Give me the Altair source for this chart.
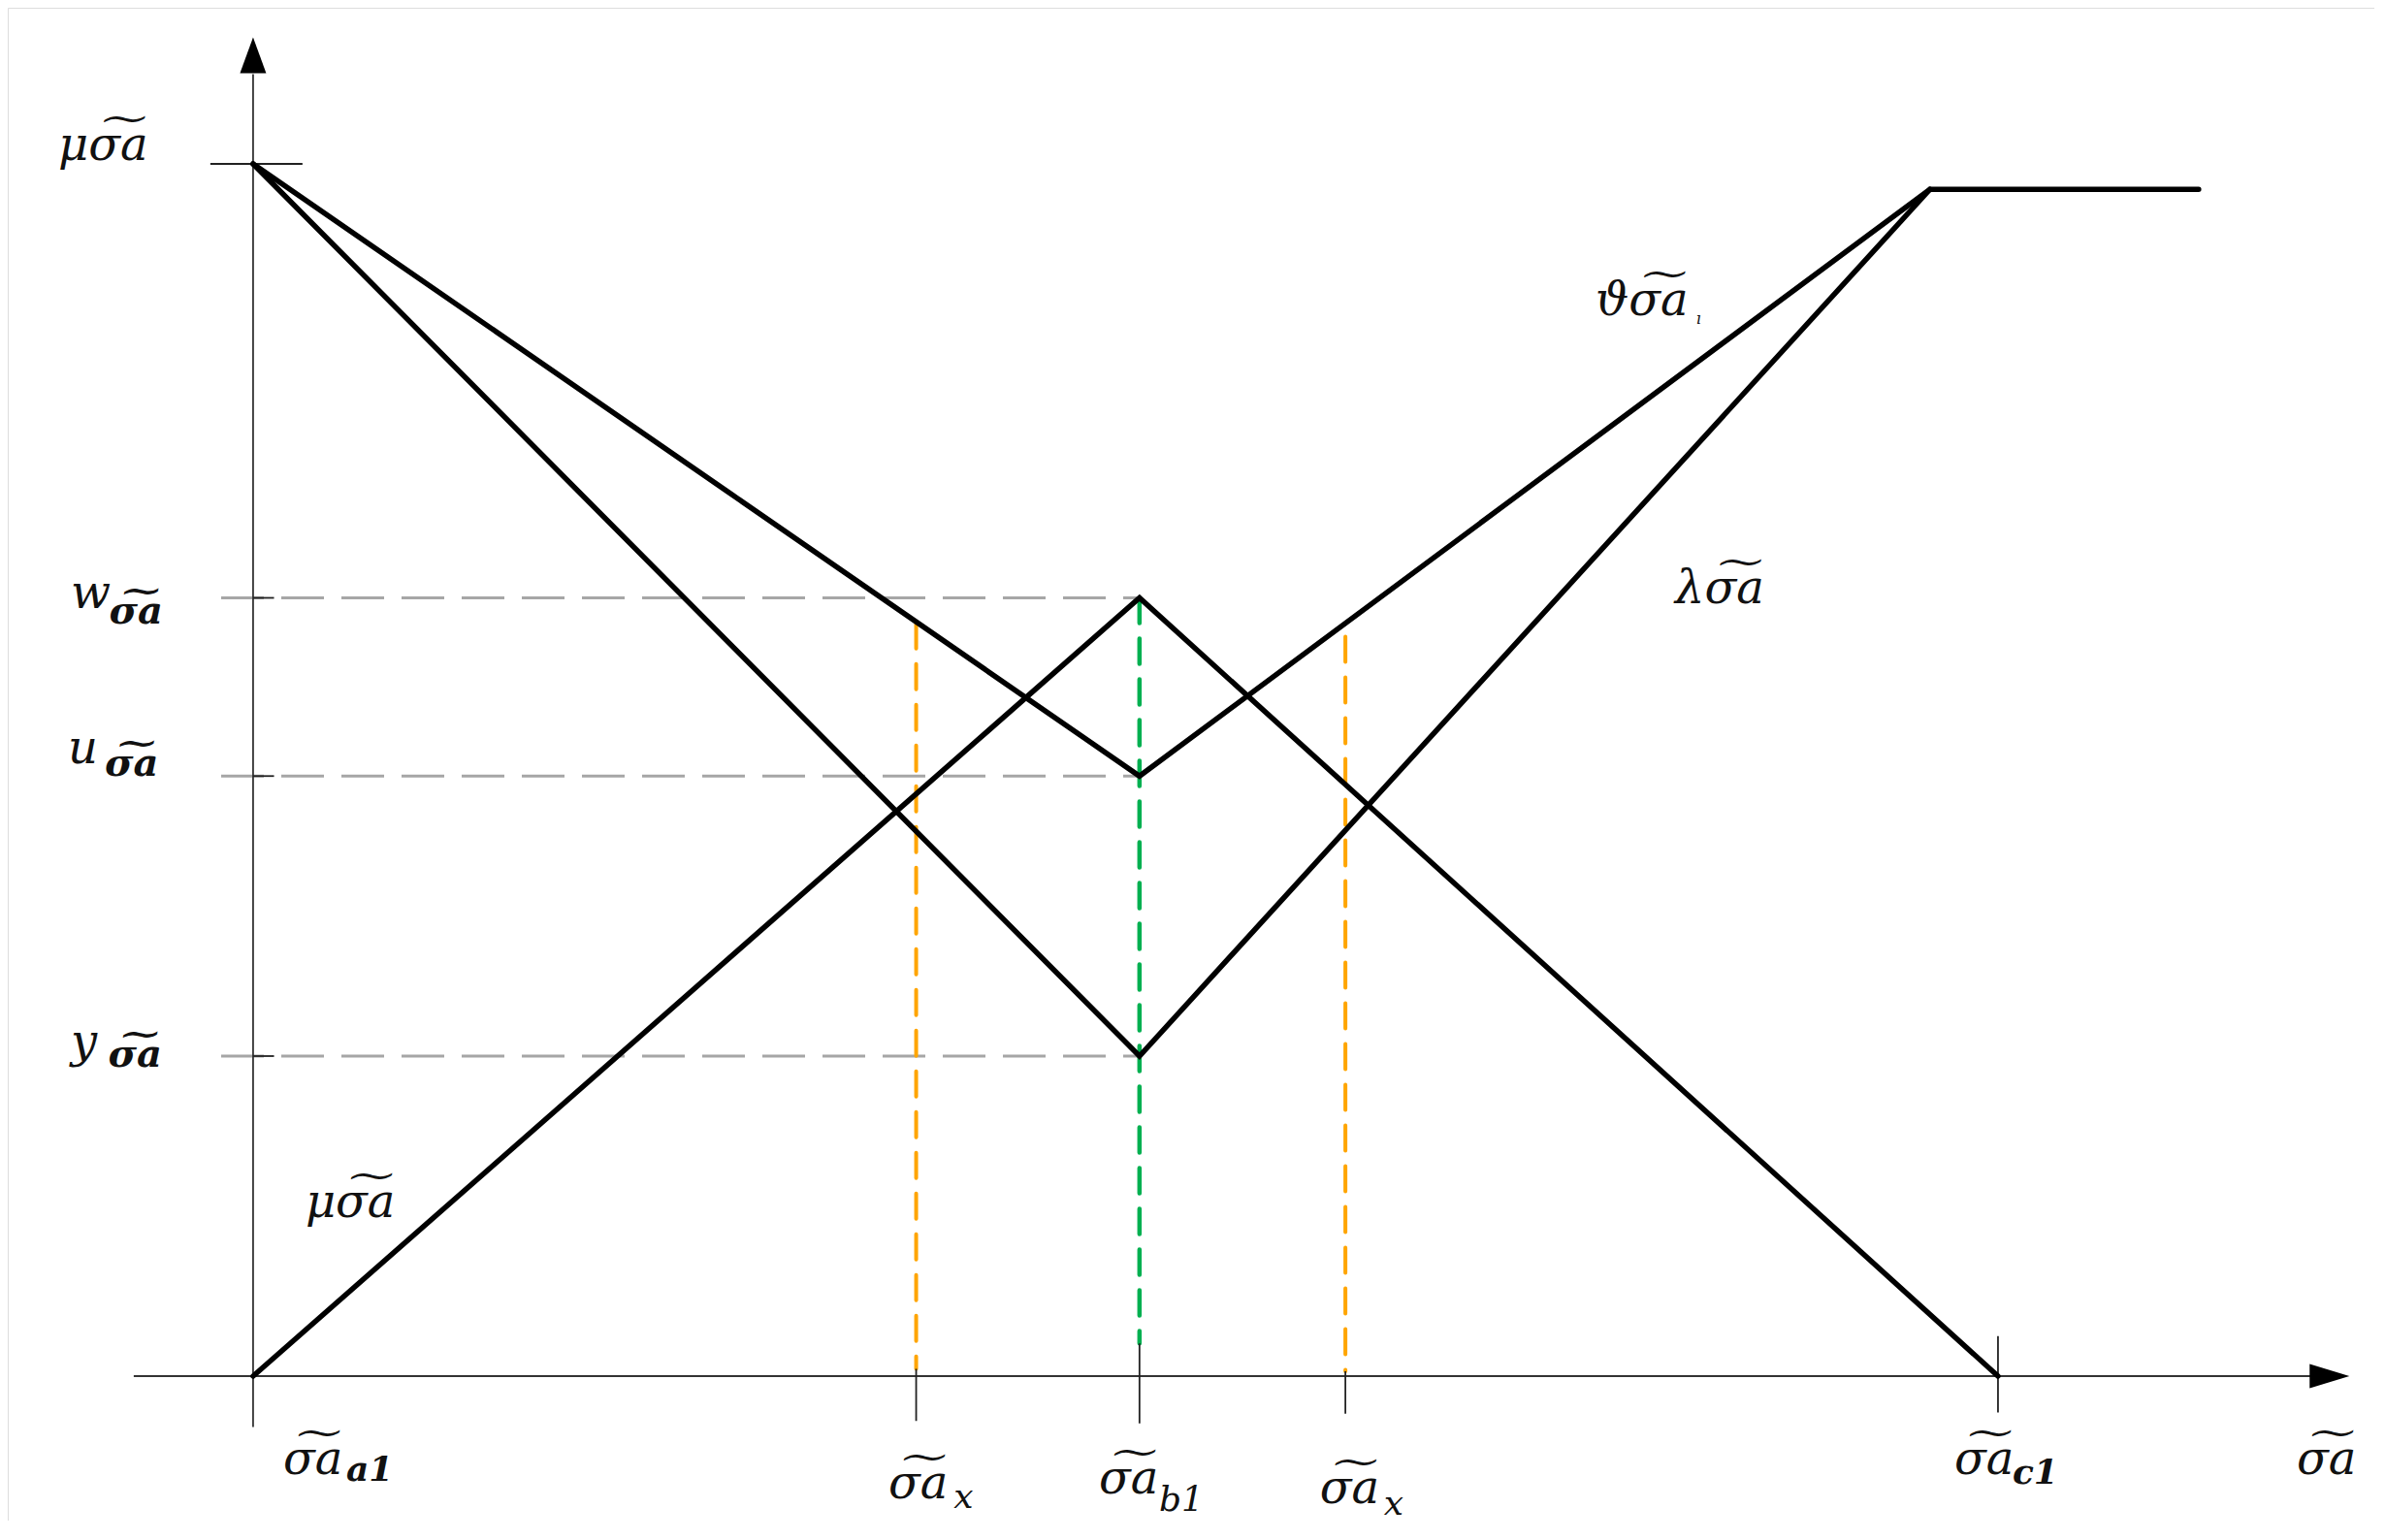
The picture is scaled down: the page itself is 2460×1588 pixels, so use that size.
import altair as alt
import pandas as pd

# ---- data (x in units where a1 = 0 and c1 = 10; y membership 0..1) ----
x_a1, x_b1, x_c1 = 0.0, 5.08, 10.0
x_left, x_right = 3.80, 6.26
x_peak, x_flat_end = 9.61, 11.15
w_val, u_val, y_val = 0.642, 0.495, 0.264
top_val, plateau = 1.0, 0.979

truth_x = [x_a1, x_b1, x_c1]
truth_y = [0.0, w_val, 0.0]
indet_x = [x_a1, x_b1, x_peak, x_flat_end]
indet_y = [top_val, u_val, plateau, plateau]
false_x = [x_a1, x_b1, x_peak]
false_y = [top_val, y_val, plateau]

TIL = "\u0360"  # combining double tilde
SA = "σ" + TIL + "a"

lab_text = ["μ" + SA, "ϑ" + SA, "λ" + SA, "μ" + SA, "w", "u", "y",
            SA, SA, SA, SA, SA, SA]
lab_x = [-1.117, 7.693, 8.149, 0.300, -1.045, -1.062, -1.045,
         0.172, 3.641, 4.847, 6.114, 9.750, 11.712]
lab_y = [1.003, 0.875, 0.638, 0.131, 0.634, 0.506, 0.263,
         -0.081, -0.101, -0.097, -0.105, -0.081, -0.081]

sub_text = [SA, SA, SA, "a1", "x", "b1", "x", "c1", "ı"]
sub_x = [-0.825, -0.850, -0.830, 0.534, 4.015, 5.192, 6.480, 10.083, 8.27]
sub_y = [0.621, 0.495, 0.255, -0.086, -0.109, -0.111, -0.114, -0.089, 0.868]
sub_size = [40, 40, 40, 36, 36, 36, 36, 36, 16]
sub_bold = [True, True, True, True, False, False, False, True, False]

FONT = "DejaVu Serif"

XD = [-1.406, 12.157]
YD = [-0.1192, 1.1288]
xs = alt.Scale(domain=XD, nice=False, zero=False)
ys = alt.Scale(domain=YD, nice=False, zero=False)

def X(f="x"):
    return alt.X(f, type="quantitative", scale=xs, axis=None)

def Y(f="y"):
    return alt.Y(f, type="quantitative", scale=ys, axis=None)

curves = pd.DataFrame(
    [dict(s="T", o=i, x=a, y=b) for i, (a, b) in enumerate(zip(truth_x, truth_y))]
    + [dict(s="I", o=i, x=a, y=b) for i, (a, b) in enumerate(zip(indet_x, indet_y))]
    + [dict(s="F", o=i, x=a, y=b) for i, (a, b) in enumerate(zip(false_x, false_y))]
)

main = alt.Chart(curves).mark_line(color="black", strokeWidth=5.5, strokeCap="round",
                                   strokeJoin="miter").encode(
    x=X(), y=Y(), detail="s:N", order="o:Q")

# axes lines
axes_df = pd.DataFrame([
    dict(x=0.0, x2=0.0, y=-0.042, y2=1.074),
    dict(x=-0.684, x2=11.80, y=0.0, y2=0.0),
])
axes = alt.Chart(axes_df).mark_rule(color="#333333", strokeWidth=1.8).encode(
    x=X(), x2="x2", y=Y(), y2="y2")

# ticks
ticks_df = pd.DataFrame([
    dict(x=-0.245, x2=0.283, y=top_val, y2=top_val),
    dict(x=x_left, x2=x_left, y=0.006, y2=-0.037),
    dict(x=x_b1, x2=x_b1, y=0.027, y2=-0.039),
    dict(x=x_right, x2=x_right, y=0.004, y2=-0.031),
    dict(x=x_c1, x2=x_c1, y=0.033, y2=-0.030),
    dict(x=0.0, x2=0.12, y=w_val, y2=w_val),
    dict(x=0.0, x2=0.12, y=u_val, y2=u_val),
    dict(x=0.0, x2=0.12, y=y_val, y2=y_val),
])
ticks = alt.Chart(ticks_df).mark_rule(color="#222222", strokeWidth=1.8).encode(
    x=X(), x2="x2", y=Y(), y2="y2")

# gray dashed horizontal guides
gray_df = pd.DataFrame([dict(x=-0.183, x2=x_b1, y=v, y2=v) for v in [w_val, u_val, y_val]])
gray = alt.Chart(gray_df).mark_rule(color="#a6a6a6", strokeWidth=3,
                                    strokeDash=[44, 18]).encode(
    x=X(), x2="x2", y=Y(), y2="y2")

# orange dashed verticals
orange_df = pd.DataFrame([
    dict(x=x_left, x2=x_left, y=0.621, y2=0.006),
    dict(x=x_right, x2=x_right, y=0.61, y2=0.004),
])
orange = alt.Chart(orange_df).mark_rule(color="#ffa500", strokeWidth=4, strokeCap="round",
                                        strokeDash=[26, 16]).encode(
    x=X(), x2="x2", y=Y(), y2="y2")

green_df = pd.DataFrame([dict(x=x_b1, x2=x_b1, y=w_val, y2=0.027)])
green = alt.Chart(green_df).mark_rule(color="#00b050", strokeWidth=4.5, strokeCap="round",
                                      strokeDash=[26, 16]).encode(
    x=X(), x2="x2", y=Y(), y2="y2")

# arrow heads
up_df = pd.DataFrame([dict(x=0.0, y=1.0896)])
up = alt.Chart(up_df).mark_point(shape="M0,-1L0.73,1L-0.73,1Z", size=1369, filled=True,
                                 color="black", opacity=1).encode(x=X(), y=Y())
right_df = pd.DataFrame([dict(x=11.90, y=0.0)])
right = alt.Chart(right_df).mark_point(shape="M1,0L-1,-0.61L-1,0.61Z", size=1681, filled=True,
                                       color="black", opacity=1).encode(x=X(), y=Y())

labels_df = pd.DataFrame(dict(x=lab_x, y=lab_y, t=lab_text))
labels = alt.Chart(labels_df).mark_text(font=FONT, fontStyle="italic", fontSize=48,
                                        align="left", baseline="alphabetic",
                                        color="#111111").encode(
    x=X(), y=Y(), text="t:N")

subs_df = pd.DataFrame(dict(x=sub_x, y=sub_y, t=sub_text, s=sub_size, b=sub_bold))

def sub_layer(bold):
    return alt.Chart(subs_df[subs_df["b"] == bold]).mark_text(
        font=FONT, fontStyle="italic", fontWeight="bold" if bold else "normal",
        align="left", baseline="alphabetic", color="#111111").encode(
        x=X(), y=Y(), text="t:N",
        size=alt.Size("s:Q", scale=None, legend=None))

chart = alt.layer(gray, orange, green, axes, ticks, main, up, right, labels,
                  sub_layer(True), sub_layer(False)).properties(
    width=2440, height=1560, padding=0,
    autosize=alt.AutoSizeParams(type="none"),
).configure_view(strokeWidth=0, stroke="transparent").configure(background="white")

chart.save("out.html", embed_options={"renderer": "svg", "actions": False})
